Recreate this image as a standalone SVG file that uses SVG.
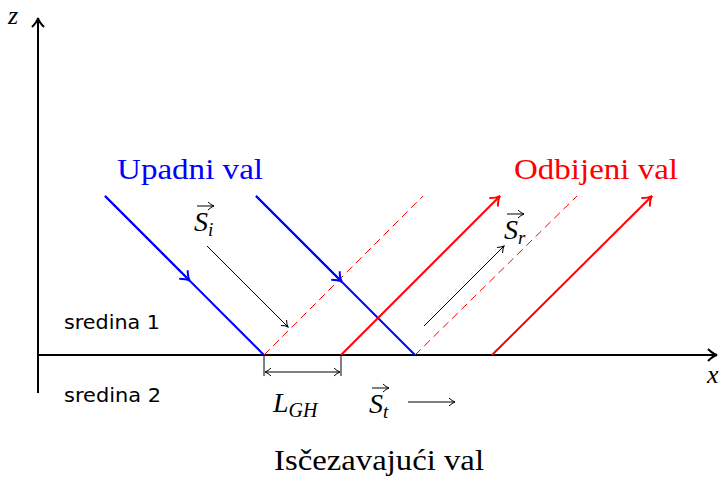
<svg xmlns="http://www.w3.org/2000/svg" width="721" height="477" viewBox="0 0 721 477">
<defs>
<marker id="ahb" markerWidth="14" markerHeight="14" refX="11" refY="7" orient="auto" markerUnits="userSpaceOnUse"><path d="M2,1 Q7,6 11,7 Q7,8 2,13" fill="none" stroke="#000" stroke-width="2"/></marker>
<marker id="ahs" markerWidth="10" markerHeight="10" refX="8" refY="5" orient="auto" markerUnits="userSpaceOnUse"><path d="M2,1 Q5,4 8,5 Q5,6 2,9" fill="none" stroke="#000" stroke-width="1"/></marker>
<marker id="ahr" markerWidth="14" markerHeight="14" refX="11" refY="7" orient="auto" markerUnits="userSpaceOnUse"><path d="M2,1 Q7,6 11,7 Q7,8 2,13" fill="none" stroke="#f00" stroke-width="2"/></marker>
<marker id="ahbl" markerWidth="14" markerHeight="14" refX="7" refY="7" orient="auto" markerUnits="userSpaceOnUse"><path d="M2,1 Q7,6 11,7 Q7,8 2,13" fill="none" stroke="#00f" stroke-width="2"/></marker>
</defs>
<style>
.cm{font-family:"Liberation Serif",serif;}
.sans{font-family:"DejaVu Sans","Liberation Sans",sans-serif;}
.blue{stroke:#00f;stroke-width:2;fill:none;}
.red{stroke:#f00;stroke-width:2;fill:none;}
.dash{stroke:#f00;stroke-width:1;stroke-dasharray:8,5;fill:none;}
.thin{stroke:#000;stroke-width:1;fill:none;}
</style>
<g id="axes">
<line x1="38" y1="393" x2="38" y2="18" stroke="#000" stroke-width="2" marker-end="url(#ahb)"/>
<line x1="38" y1="355" x2="717" y2="355" stroke="#000" stroke-width="2" marker-end="url(#ahb)"/>
<text x="8" y="24" class="cm" font-size="26" font-style="italic">z</text>
<text x="707" y="383" class="cm" font-size="26" font-style="italic">x</text>
</g>
<g id="connectors">
<line x1="264" y1="355" x2="423" y2="196" class="dash"/>
<line x1="415" y1="355" x2="577" y2="196" class="dash"/>
<line x1="105" y1="196" x2="264" y2="355" class="blue"/>
<line x1="105" y1="196" x2="187" y2="278" class="blue" marker-end="url(#ahbl)"/>
<line x1="256" y1="196" x2="415" y2="355" class="blue"/>
<line x1="256" y1="196" x2="339" y2="279" class="blue" marker-end="url(#ahbl)"/>
<line x1="341" y1="355" x2="500" y2="196" class="red" marker-end="url(#ahr)"/>
<line x1="492" y1="355" x2="652" y2="196" class="red" marker-end="url(#ahr)"/>
<line x1="207" y1="246" x2="288" y2="327" class="thin" marker-end="url(#ahs)"/>
<line x1="424" y1="326" x2="504" y2="246" class="thin" marker-end="url(#ahs)"/>
<line x1="264" y1="355" x2="264" y2="376" class="thin"/>
<line x1="341" y1="355" x2="341" y2="376" class="thin"/>
<line x1="265" y1="372" x2="340" y2="372" class="thin"/>
<path d="M271,368 Q268,371 265,372 Q268,373 271,376 M334,368 Q337,371 340,372 Q337,373 334,376" class="thin"/>
<line x1="408" y1="402" x2="455" y2="402" class="thin" marker-end="url(#ahs)"/>
</g>
<g id="upadni"><text x="117" y="179" class="cm" font-size="29" fill="#00f" textLength="146" lengthAdjust="spacingAndGlyphs">Upadni val</text></g>
<g id="odbijeni"><text x="514" y="179" class="cm" font-size="29" fill="#f00" textLength="164" lengthAdjust="spacingAndGlyphs">Odbijeni val</text></g>
<g id="Si"><text x="194" y="231" class="cm" font-size="28" font-style="italic">S<tspan font-size="19" dy="5">i</tspan></text><line x1="197" y1="206" x2="214" y2="206" class="thin" marker-end="url(#ahs)"/></g>
<g id="Sr"><text x="504" y="239" class="cm" font-size="28" font-style="italic">S<tspan font-size="19" dy="5">r</tspan></text><line x1="507" y1="214" x2="524" y2="214" class="thin" marker-end="url(#ahs)"/></g>
<g id="St"><text x="369" y="413" class="cm" font-size="28" font-style="italic">S<tspan font-size="19" dy="5">t</tspan></text><line x1="372" y1="388" x2="389" y2="388" class="thin" marker-end="url(#ahs)"/></g>
<g id="LGH"><text x="273" y="412" class="cm" font-size="28" font-style="italic">L<tspan font-size="20" dy="5">GH</tspan></text></g>
<g id="sredina1"><text x="64" y="329" class="sans" font-size="19" textLength="96" lengthAdjust="spacingAndGlyphs">sredina 1</text></g>
<g id="sredina2"><text x="64" y="402" class="sans" font-size="19" textLength="97" lengthAdjust="spacingAndGlyphs">sredina 2</text></g>
<g id="iscez"><text x="274" y="470" class="cm" font-size="29" textLength="210" lengthAdjust="spacingAndGlyphs">Isčezavajući val</text></g>
</svg>
